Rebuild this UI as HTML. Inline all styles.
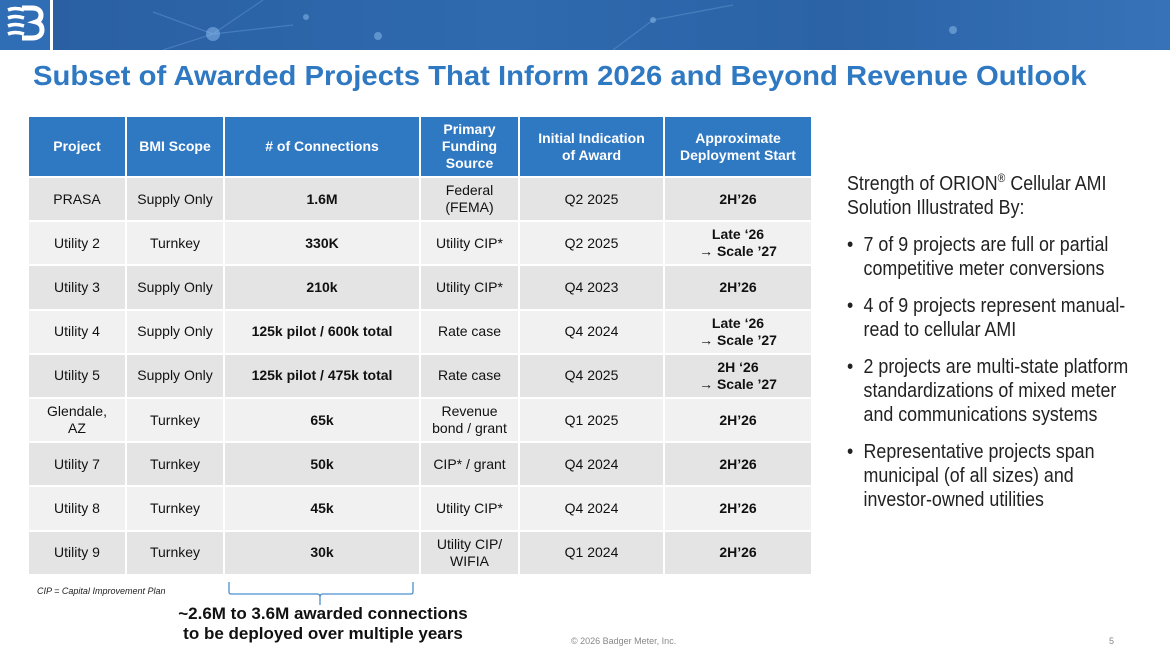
<!DOCTYPE html>
<html><head><meta charset="utf-8">
<style>
*{margin:0;padding:0;box-sizing:border-box}
body{width:1170px;height:658px;position:relative;background:#fff;font-family:"Liberation Sans",Arial,sans-serif;overflow:hidden}
.logo{position:absolute;left:0;top:0;width:50px;height:50px;background:#2f6db5}
.band{position:absolute;left:53px;top:0;width:1117px;height:50px;background:linear-gradient(90deg,#2a5fa3 0%,#2f6aae 40%,#2b63a6 70%,#3772b8 100%);overflow:hidden}
h1{position:absolute;left:33px;top:60px;font-size:28px;font-weight:bold;color:#2f78c2;white-space:nowrap;transform-origin:0 0;transform:scaleX(1.045)}
table{position:absolute;left:27px;top:115px;border-collapse:collapse;table-layout:fixed}
td,th{border:2px solid #fff;text-align:center;vertical-align:middle;font-size:14px;color:#111;line-height:17px}
th{background:#2f78c2;color:#fff;font-weight:bold;height:61px;font-size:14px;padding:0 10px}
td{height:44.2px}
tr.a td{background:#e4e4e4}
tr.b td{background:#f1f1f1}
td.bd{font-weight:bold}
.right{position:absolute;left:847px;top:166px;width:350px;font-size:20.5px;line-height:24px;color:#222;transform-origin:0 0;transform:scaleX(0.87)}
.right ul{list-style:none;margin-top:13px}
.right li{position:relative;padding-left:19px;margin-bottom:13px}
.right li:before{content:"•";position:absolute;left:0}
.note{position:absolute;left:37px;top:586px;font-size:9px;font-style:italic;color:#222}
.sum{position:absolute;left:130px;top:604px;width:386px;text-align:center;font-size:17px;font-weight:bold;line-height:20px;color:#111}
.foot{position:absolute;left:571px;top:636px;font-size:9px;color:#888}
.pg{position:absolute;left:1109px;top:636px;font-size:9px;color:#888}
</style></head><body>
<div class="logo">
<svg width="50" height="50" viewBox="0 0 50 50"><path d="M22 8h10c6 0 9 3 9 7s-2 6-5 7c4 1 6 4 6 8 0 5-4 8-10 8H22" fill="none" stroke="#fff" stroke-width="5"/><path d="M8 10q7-3 16 0M8 18q7-3 16 0M8 26q7-3 16 0M8 34q7-3 16 0" stroke="#fff" stroke-width="3.5" fill="none"/></svg>
</div>
<div class="band">
<svg width="1117" height="50"><g stroke="#6fa3db" stroke-opacity=".4" stroke-width="1.2" fill="none"><path d="M160 34L210 0M160 34L100 12M160 34L240 25M160 34L110 50"/><path d="M600 20L680 5M600 20L560 50"/></g><g fill="#8fbff0" fill-opacity=".5"><circle cx="160" cy="34" r="7"/><circle cx="253" cy="17" r="3"/><circle cx="325" cy="36" r="4"/><circle cx="600" cy="20" r="3"/><circle cx="900" cy="30" r="4"/></g></svg>
</div>
<h1>Subset of Awarded Projects That Inform 2026 and Beyond Revenue Outlook</h1>
<table>
<colgroup><col style="width:98px"><col style="width:98px"><col style="width:196px"><col style="width:99px"><col style="width:145px"><col style="width:148px"></colgroup>
<tr><th>Project</th><th>BMI Scope</th><th># of Connections</th><th style="padding:0 4px">Primary Funding Source</th><th style="padding:0 14px">Initial Indication of Award</th><th>Approximate Deployment Start</th></tr>
<tr class="a"><td>PRASA</td><td>Supply Only</td><td class="bd">1.6M</td><td>Federal<br>(FEMA)</td><td>Q2 2025</td><td class="bd">2H’26</td></tr>
<tr class="b"><td>Utility 2</td><td>Turnkey</td><td class="bd">330K</td><td>Utility CIP*</td><td>Q2 2025</td><td class="bd">Late ‘26<br>→ Scale ’27</td></tr>
<tr class="a"><td>Utility 3</td><td>Supply Only</td><td class="bd">210k</td><td>Utility CIP*</td><td>Q4 2023</td><td class="bd">2H’26</td></tr>
<tr class="b"><td>Utility 4</td><td>Supply Only</td><td class="bd">125k pilot / 600k total</td><td>Rate case</td><td>Q4 2024</td><td class="bd">Late ‘26<br>→ Scale ’27</td></tr>
<tr class="a"><td>Utility 5</td><td>Supply Only</td><td class="bd">125k pilot / 475k total</td><td>Rate case</td><td>Q4 2025</td><td class="bd">2H ‘26<br>→ Scale ’27</td></tr>
<tr class="b"><td>Glendale,<br>AZ</td><td>Turnkey</td><td class="bd">65k</td><td>Revenue<br>bond / grant</td><td>Q1 2025</td><td class="bd">2H’26</td></tr>
<tr class="a"><td>Utility 7</td><td>Turnkey</td><td class="bd">50k</td><td>CIP* / grant</td><td>Q4 2024</td><td class="bd">2H’26</td></tr>
<tr class="b"><td>Utility 8</td><td>Turnkey</td><td class="bd">45k</td><td>Utility CIP*</td><td>Q4 2024</td><td class="bd">2H’26</td></tr>
<tr class="a"><td>Utility 9</td><td>Turnkey</td><td class="bd">30k</td><td>Utility CIP/<br>WIFIA</td><td>Q1 2024</td><td class="bd">2H’26</td></tr>
</table>
<div class="note">CIP = Capital Improvement Plan</div>
<svg style="position:absolute;left:225px;top:580px" width="195" height="26"><path d="M4 2v10q0 2 2 2h86q3 0 3 3v8M95 17q0-3 3-3h88q2 0 2-2V2" fill="none" stroke="#4a8fd0" stroke-width="1.3"/></svg>
<div class="sum">~2.6M to 3.6M awarded connections<br>to be deployed over multiple years</div>
<div class="right">
<div>Strength of ORION<sup style="font-size:12px">®</sup> Cellular AMI<br>Solution Illustrated By:</div>
<ul>
<li>7 of 9 projects are full or partial<br>competitive meter conversions</li>
<li>4 of 9 projects represent manual-<br>read to cellular AMI</li>
<li>2 projects are multi-state platform<br>standardizations of mixed meter<br>and communications systems</li>
<li>Representative projects span<br>municipal (of all sizes) and<br>investor-owned utilities</li>
</ul></div>
<div class="foot">© 2026 Badger Meter, Inc.</div>
<div class="pg">5</div>
</body></html>
